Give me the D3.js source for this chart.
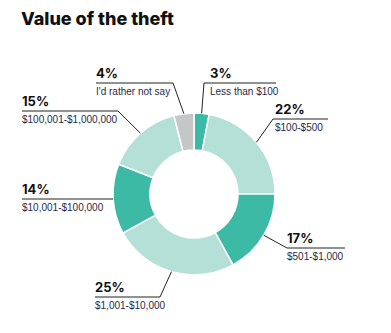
<!DOCTYPE html>
<html>
<head>
<meta charset="utf-8">
<script src="https://cdn.jsdelivr.net/npm/d3@7/dist/d3.min.js"></script>
<style>
  html, body { margin: 0; padding: 0; background: #fff; }
  svg { display: block; }
</style>
</head>
<body>
<svg id="chart" width="391" height="333"></svg>
<script>
// Share of respondents by value of the stolen goods
const categories = [
  "Less than $100",
  "$100-$500",
  "$501-$1,000",
  "$1,001-$10,000",
  "$10,001-$100,000",
  "$100,001-$1,000,000",
  "I'd rather not say"
];
const values = [3, 22, 17, 25, 14, 15, 4];

// Label placement for each slice: text x, rule y, rule extent and the elbow x
const labelLayout = [
  { tx: 210, ly: 83,  x0: 204, x1: 276, elbow: 204 },
  { tx: 275, ly: 119, x0: 273, x1: 328, elbow: 273 },
  { tx: 287, ly: 248, x0: 287, x1: 345, elbow: 287 },
  { tx: 95,  ly: 297, x0: 95,  x1: 160, elbow: 160 },
  { tx: 22,  ly: 199, x0: 22,  x1: null, elbow: null },
  { tx: 22,  ly: 111, x0: 22,  x1: 118, elbow: 118 },
  { tx: 96,  ly: 83,  x0: 96,  x1: 173, elbow: 173 }
];

const dark = "#3dbaa6", light = "#b5e0d7", grey = "#c5c6c8";
const color = d3.scaleOrdinal()
  .domain(categories)
  .range([dark, light, dark, light, dark, light, grey]);

const svg = d3.select("#chart");

svg.append("text")
  .attr("x", 21).attr("y", 25)
  .attr("font-family", "Inter, sans-serif")
  .attr("font-weight", 800)
  .attr("font-size", 18)
  .attr("fill", "#111")
  .text("Value of the theft");

const cx = 194, cy = 194, outerR = 81, innerR = 44;

const pie = d3.pie().sort(null).value(d => d.value);
const arcs = pie(categories.map((c, i) => ({ category: c, value: values[i] })));
const arc = d3.arc().innerRadius(innerR).outerRadius(outerR);

const g = svg.append("g").attr("transform", `translate(${cx},${cy})`);
g.selectAll("path")
  .data(arcs)
  .join("path")
  .attr("d", arc)
  .attr("fill", d => color(d.data.category))
  .attr("stroke", "#fff")
  .attr("stroke-width", 1.5);

// Leader lines and labels
const labels = svg.append("g");
arcs.forEach((a, i) => {
  const L = labelLayout[i];
  const mid = (a.startAngle + a.endAngle) / 2;
  const px = cx + outerR * Math.sin(mid);
  const py = cy - outerR * Math.cos(mid);
  let pts;
  if (L.elbow === null) {
    pts = [[L.x0, L.ly], [px, L.ly]];
  } else if (L.elbow === L.x0) {
    pts = [[px, py], [L.elbow, L.ly], [L.x1, L.ly]];
  } else {
    pts = [[L.x0, L.ly], [L.elbow, L.ly], [px, py]];
  }
  labels.append("path")
    .attr("d", d3.line()(pts))
    .attr("fill", "none")
    .attr("stroke", "#222")
    .attr("stroke-width", 1);

  labels.append("text")
    .attr("x", L.tx).attr("y", L.ly - 5)
    .attr("font-family", "Inter, sans-serif")
    .attr("font-weight", 700)
    .attr("font-size", 13)
    .attr("fill", "#111")
    .text(a.data.value + "%");

  labels.append("text")
    .attr("x", L.tx).attr("y", L.ly + 11.5)
    .attr("font-family", "'Liberation Sans', Arial, sans-serif")
    .attr("font-size", 10)
    .attr("fill", "#1f2a4a")
    .text(a.data.category);
});
</script>
</body>
</html>
